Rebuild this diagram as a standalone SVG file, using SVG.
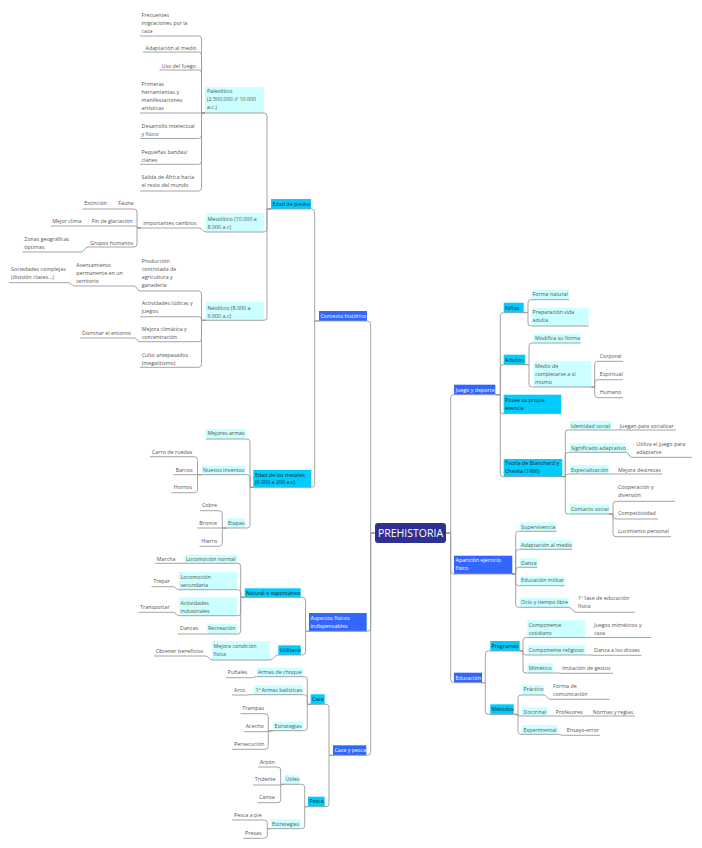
<svg xmlns="http://www.w3.org/2000/svg" width="702" height="848" viewBox="0 0 702 848">
<style>
text{font-family:"Open Sans","Noto Sans","Liberation Sans",sans-serif;font-size:5.35px;fill:#555}
.tw{fill:#fff}
.td{fill:#1e1e1e}
.u{stroke:#9a9a9a;stroke-width:0.9;fill:none}
.lc{fill:#ccffff}
.bc{fill:#00ccff}
.bl{fill:#3366ff}
#connectors path{stroke:#9a9a9a;stroke-width:0.9;fill:none}
</style>
<rect width="702" height="848" fill="#fff"/>
<g id="connectors">
<path d="M375,533 H370.7 V324 Q370.7,321 367.7,321 H367"/>
<path d="M375,533 H370.7 V628.3 Q370.7,631.3 367.7,631.3 H366.7"/>
<path d="M375,533 H370.7 V752.3 Q370.7,755.3 367.7,755.3 H366.3"/>
<path d="M319,321 H314.7 V212 Q314.7,209 311.7,209 H311"/>
<path d="M319,321 H314.7 V484.3 Q314.7,487.3 311.7,487.3 H311.3"/>
<path d="M271,209 H267 V116 Q267,113 264,113"/>
<path d="M271,209 H267 V229 Q267,232 264,232"/>
<path d="M271,209 H267 V317.3 Q267,320.3 264,320.3"/>
<path d="M205,113 H201.5 V39 Q201.5,36 198.5,36"/>
<path d="M205,113 H201.5 V55 Q201.5,52 198.5,52"/>
<path d="M205,113 H201.5 V73 Q201.5,70 198.5,70"/>
<path d="M205,113 H201.5"/>
<path d="M205,113 H201.5 V135.5 Q201.5,138.5 198.5,138.5"/>
<path d="M205,113 H201.5 V161.3 Q201.5,164.3 198.5,164.3"/>
<path d="M205,113 H201.5 V188 Q201.5,191 198.5,191"/>
<path d="M206,232 C202.5,232 202.5,228 199,228"/>
<path d="M141,228 H137 V212 Q137,209 134,209"/>
<path d="M141,228 C138,228 137,226 134,226"/>
<path d="M141,228 H137 V244 Q137,247 134,247"/>
<path d="M116,209 H110.5"/>
<path d="M89.5,226 H84"/>
<path d="M88,247 C84.5,247 84.5,252 81,252"/>
<path d="M206,320.3 H201.5 V294 Q201.5,291 198.5,291"/>
<path d="M206,320.3 H201.5 V319.7 Q201.5,316.7 198.5,316.7"/>
<path d="M206,320.3 H201.5 V338.7 Q201.5,341.7 198.5,341.7"/>
<path d="M206,320.3 H201.5 V364.3 Q201.5,367.3 198.5,367.3"/>
<path d="M140,291 C137,291 137,286 134,286"/>
<path d="M74.5,286 C71.2,286 71.2,282.7 68,282.7"/>
<path d="M140,341.7 C137,341.7 137,338 134,338"/>
<path d="M253.3,487.3 H250 V442 Q250,439 247,439 H245.5"/>
<path d="M253.3,487.3 H250 V477.7 Q250,474.7 247,474.7 H245.5"/>
<path d="M253.3,487.3 H250 V525 Q250,528 247,528 H245.5"/>
<path d="M201.7,474.7 H197.5 V459.7 Q197.5,456.7 194.5,456.7"/>
<path d="M201.7,474.7 H197.5"/>
<path d="M201.7,474.7 H197.5 V489.7 Q197.5,492.7 194.5,492.7"/>
<path d="M226.7,528 H222.3 V513.7 Q222.3,510.7 219.3,510.7"/>
<path d="M226.7,528 H222.3"/>
<path d="M226.7,528 H222.3 V543.3 Q222.3,546.3 219.3,546.3"/>
<path d="M309,631.3 H305.5 V600.3 Q305.5,597.3 302.5,597.3 H300.7"/>
<path d="M309,631.3 H305.5 V652 Q305.5,655 302.5,655 H300.7"/>
<path d="M244.7,597.3 H240.7 V566.3 Q240.7,563.3 237.7,563.3 H237"/>
<path d="M244.7,597.3 H240.7 V592.7 Q240.7,589.7 237.7,589.7 H237"/>
<path d="M244.7,597.3 H240.7 V612.7 Q240.7,615.7 237.7,615.7 H237"/>
<path d="M244.7,597.3 H240.7 V631 Q240.7,634 237.7,634 H237"/>
<path d="M184.3,563.3 H181"/>
<path d="M179,589.7 C176,589.7 176,586.7 173,586.7"/>
<path d="M179,615.7 C176,615.7 176,612.3 173,612.3"/>
<path d="M206.7,634 H203"/>
<path d="M278.3,655 C274,655 274,660 270,660"/>
<path d="M212,660 C209,660 209,656 206,656"/>
<path d="M333,755.3 H329 V707.3 Q329,704.3 326,704.3 H324.7"/>
<path d="M333,755.3 H329 V803.7 Q329,806.7 326,806.7 H324.7"/>
<path d="M310.7,704.3 H307.3 V679.7 Q307.3,676.7 304.3,676.7 H303"/>
<path d="M310.7,704.3 H307.3 V697.7 Q307.3,694.7 304.3,694.7 H303"/>
<path d="M310.7,704.3 H307.3 V727.7 Q307.3,730.7 304.3,730.7 H303"/>
<path d="M256.7,676.7 C254,676.7 254,677.7 251.5,677.7"/>
<path d="M254,694.7 H249"/>
<path d="M273,730.7 H268.3 V716.7 Q268.3,713.7 265.3,713.7"/>
<path d="M273,730.7 C270.5,730.7 270.5,731.7 268.3,731.7"/>
<path d="M273,730.7 H268.3 V746.3 Q268.3,749.3 265.3,749.3"/>
<path d="M308,806.7 H304.7 V787.3 Q304.7,784.3 301.7,784.3 H299.7"/>
<path d="M308,806.7 H304.7 V825.7 Q304.7,828.7 301.7,828.7 H300.7"/>
<path d="M284,784.3 H280.7 V770 Q280.7,767 277.7,767"/>
<path d="M284,784.3 C282,784.3 282,785 280.7,785"/>
<path d="M284,784.3 H280.7 V799.7 Q280.7,802.7 277.7,802.7"/>
<path d="M270.7,828.7 H267.3 V823 Q267.3,820 264.3,820"/>
<path d="M270.7,828.7 H267.3 V835.3 Q267.3,838.3 264.3,838.3"/>
<path d="M446,533 H450.7 V397.7 Q450.7,394.7 453.7,394.7 H454"/>
<path d="M446,533 H450.7 V571 Q450.7,574 453.7,574 H454"/>
<path d="M446,533 H450.7 V679.7 Q450.7,682.7 453.7,682.7 H454"/>
<path d="M495.3,394.7 H500.3 V315.7 Q500.3,312.7 503.3,312.7 H503.7"/>
<path d="M495.3,394.7 H500.3 V367.7 Q500.3,364.7 503.3,364.7 H503.7"/>
<path d="M495.3,394.7 H500.3 V410.7 Q500.3,413.7 503.3,413.7 H503.7"/>
<path d="M495.3,394.7 H500.3 V473.7 Q500.3,476.7 503.3,476.7 H503.7"/>
<path d="M523.7,312.7 H528 V302.7 Q528,299.7 531,299.7 H531.3"/>
<path d="M523.7,312.7 H528 V323 Q528,326 531,326 H531.3"/>
<path d="M525.3,364.7 H529 V346 Q529,343 532,343 H533.7"/>
<path d="M525.3,364.7 H529 V384 Q529,387 532,387 H533.7"/>
<path d="M591.3,387 H594.7 V364.3 Q594.7,361.3 597.7,361.3"/>
<path d="M591.3,387 H594.7 V382.7 Q594.7,379.7 597.7,379.7"/>
<path d="M591.3,387 H594.7 V394.7 Q594.7,397.7 597.7,397.7"/>
<path d="M562.3,476.7 H565.3 V433 Q565.3,430 568.3,430 H569.7"/>
<path d="M562.3,476.7 H565.3 V455.3 Q565.3,452.3 568.3,452.3 H569.7"/>
<path d="M562.3,476.7 C565.3,476.7 565.3,474 569.7,474"/>
<path d="M562.3,476.7 H565.3 V511 Q565.3,514 568.3,514 H569.7"/>
<path d="M611.3,430 H616"/>
<path d="M626.3,452.3 C629,452.3 629,457.3 632,457.3"/>
<path d="M608.7,474 H615"/>
<path d="M608.7,514 H613 V504.3 Q613,501.3 616,501.3"/>
<path d="M608.7,514 H613 V516 Q613,519 616,519"/>
<path d="M608.7,514 H613 V533.7 Q613,536.7 616,536.7"/>
<path d="M512.3,574 H515.7 V534.3 Q515.7,531.3 518.7,531.3 H519.7"/>
<path d="M512.3,574 H515.7 V552.3 Q515.7,549.3 518.7,549.3 H519.7"/>
<path d="M512.3,574 H515.7 V570.3 Q515.7,567.3 518.7,567.3 H519.7"/>
<path d="M512.3,574 H515.7 V582.7 Q515.7,585.7 518.7,585.7 H519.7"/>
<path d="M512.3,574 H515.7 V604.3 Q515.7,607.3 518.7,607.3 H519.7"/>
<path d="M568.7,607.3 C572.3,607.3 572.3,612.3 576,612.3"/>
<path d="M482,682.7 H485.3 V654 Q485.3,651 488.3,651 H490.3"/>
<path d="M482,682.7 H485.3 V711.3 Q485.3,714.3 488.3,714.3 H490.3"/>
<path d="M519.7,651 H523 V640.5 Q523,637.5 526,637.5 H527.3"/>
<path d="M519.7,651 H523 V652 Q523,655 526,655 H527.3"/>
<path d="M519.7,651 H523 V670 Q523,673 526,673 H527.3"/>
<path d="M585.3,637.5 H592"/>
<path d="M585.3,655 H592"/>
<path d="M553,673 H560"/>
<path d="M513.7,714.3 H518 V698 Q518,695 521,695 H522"/>
<path d="M513.7,714.3 C517,714.3 517,716 522,716"/>
<path d="M513.7,714.3 H518 V731.3 Q518,734.3 521,734.3 H522"/>
<path d="M544,695 C547,695 547,699.3 550,699.3"/>
<path d="M547.3,716 H553"/>
<path d="M585,716 H590"/>
<path d="M557.3,734.3 C560.5,734.3 560.5,735.3 564,735.3"/>
</g>

<g id="root"><rect x="375" y="523" width="71" height="20" rx="3" fill="#2e3192"/><text x="410.5" y="536.8" text-anchor="middle" class="tw" style="font-size:10.5px">PREHISTORIA</text></g>

<g id="contexto"><rect class="bl" x="319" y="311" width="48" height="10"/><text class="tw" x="320.5" y="317.9">Contexto histórico</text><path class="u" d="M319,321 H367"/></g>
<g id="edad-piedra"><rect class="bc" x="271" y="199" width="40" height="10"/><text class="td" x="272.5" y="205.6">Edad de piedra</text><path class="u" d="M271,209 H311"/></g>
<g id="paleolitico"><rect class="lc" x="205" y="87" width="59" height="26"/><text x="207" y="93.4">Paleolítico<tspan x="207" dy="8">(2.500.000 // 10.000</tspan><tspan x="207" dy="8">a.c.)</tspan></text><path class="u" d="M205,113 H264"/></g>
<g id="frecuentes"><text x="141.5" y="16.6">Frecuentes<tspan x="141.5" dy="8">migraciones por la</tspan><tspan x="141.5" dy="8">caza</tspan></text><path class="u" d="M140,36 H198.5"/></g>
<g id="adaptacion1"><text x="145.5" y="50.2">Adaptación al medio</text><path class="u" d="M143,52 H198.5"/></g>
<g id="fuego"><text x="161.5" y="67.9">Uso del fuego</text><path class="u" d="M159.5,70 H198.5"/></g>
<g id="primeras"><text x="141.5" y="85.9">Primeras<tspan x="141.5" dy="8">herramientas y</tspan><tspan x="141.5" dy="8">manifestaciones</tspan><tspan x="141.5" dy="8">artísticas</tspan></text><path class="u" d="M140,113 H201.5"/></g>
<g id="desarrollo"><text x="141.5" y="127.9">Desarrollo intelectual<tspan x="141.5" dy="8">y físico</tspan></text><path class="u" d="M140,138.5 H198.5"/></g>
<g id="bandas"><text x="141.5" y="153.6">Pequeñas bandas/<tspan x="141.5" dy="8">clanes</tspan></text><path class="u" d="M140,164.3 H198.5"/></g>
<g id="salida"><text x="141.5" y="179.2">Salida de África hacia<tspan x="141.5" dy="8">el resto del mundo</tspan></text><path class="u" d="M140,191 H198.5"/></g>

<g id="mesolitico"><rect class="lc" x="206" y="213" width="58" height="19"/><text x="207.5" y="220.6">Mesolítico (10.000 a<tspan x="207.5" dy="8">8.000 a.c)</tspan></text><path class="u" d="M206,232 H264"/></g>
<g id="cambios"><text x="143.3" y="224.9">Importantes cambios</text><path class="u" d="M141,228 H199"/></g>
<g id="fauna"><text x="118.3" y="205.2">Fauna</text><path class="u" d="M116,209 H134"/></g>
<g id="extincion"><text x="84.3" y="205.2">Extinción</text><path class="u" d="M82.5,209 H110.5"/></g>
<g id="glaciacion"><text x="91.7" y="223.2">Fin de glaciación</text><path class="u" d="M89.5,226 H134"/></g>
<g id="clima"><text x="52.3" y="223.2">Mejor clima</text><path class="u" d="M50.5,226 H84"/></g>
<g id="grupos"><text x="90" y="244.9">Grupos humanos</text><path class="u" d="M88,247 H134"/></g>
<g id="zonas"><text x="24.3" y="240.6">Zonas geográficas<tspan x="24.3" dy="8">óptimas</tspan></text><path class="u" d="M22.5,252 H81"/></g>

<g id="neolitico"><rect class="lc" x="206" y="302" width="58" height="18.3"/><text x="207.5" y="309.6">Neolítico (8.000 a<tspan x="207.5" dy="8">6.000 a.c)</tspan></text><path class="u" d="M206,320.3 H264"/></g>
<g id="produccion"><text x="141.7" y="262.9">Producción<tspan x="141.7" dy="8">controlada de</tspan><tspan x="141.7" dy="8">agricultura y</tspan><tspan x="141.7" dy="8">ganadería</tspan></text><path class="u" d="M140,291 H198.5"/></g>
<g id="ludicas"><text x="141.7" y="304.6">Actividades lúdicas y<tspan x="141.7" dy="8">juegos</tspan></text><path class="u" d="M140,316.7 H198.5"/></g>
<g id="mejora-climatica"><text x="141.7" y="330.6">Mejora climática y<tspan x="141.7" dy="8">concentración</tspan></text><path class="u" d="M140,341.7 H198.5"/></g>
<g id="culto"><text x="141.7" y="356.6">Culto antepasados<tspan x="141.7" dy="8">(megalitismo)</tspan></text><path class="u" d="M140,367.3 H198.5"/></g>
<g id="asentamiento"><text x="76.3" y="267.2">Asentamiento<tspan x="76.3" dy="8">permanente en un</tspan><tspan x="76.3" dy="8">territorio</tspan></text><path class="u" d="M74.5,286 H134"/></g>
<g id="sociedades"><text x="11" y="271.2">Sociedades complejas<tspan x="11" dy="8">(división clases...)</tspan></text><path class="u" d="M9,282.7 H68"/></g>
<g id="dominar"><text x="82" y="334.6">Dominar el entorno</text><path class="u" d="M80,338 H134"/></g>

<g id="metales"><rect class="bc" x="253.3" y="470" width="58" height="17.3"/><text class="td" x="255" y="476.6">Edad de los metales<tspan x="255" dy="7.8">(6.000 a 200 a.c)</tspan></text><path class="u" d="M253.3,487.3 H311.3"/></g>
<g id="armas"><rect class="lc" x="206" y="429" width="39.5" height="10"/><text x="207.5" y="435.2">Mejores armas</text><path class="u" d="M206,439 H245.5"/></g>
<g id="inventos"><rect class="lc" x="201.7" y="465.7" width="43.8" height="9"/><text x="203" y="471.6">Nuevos inventos</text><path class="u" d="M201.7,474.7 H245.5"/></g>
<g id="etapas"><rect class="lc" x="226.7" y="518.3" width="18.8" height="9.7"/><text x="228" y="524.9">Etapas</text><path class="u" d="M226.7,528 H245.5"/></g>
<g id="carro"><text x="152" y="453.6">Carro de ruedas</text><path class="u" d="M150,456.7 H194.5"/></g>
<g id="barcos"><text x="175.7" y="471.6">Barcos</text><path class="u" d="M173.5,474.7 H197.5"/></g>
<g id="hornos"><text x="173.7" y="489.2">Hornos</text><path class="u" d="M171.5,492.7 H194.5"/></g>
<g id="cobre"><text x="202" y="507.2">Cobre</text><path class="u" d="M200,510.7 H219.3"/></g>
<g id="bronce"><text x="199.3" y="524.9">Bronce</text><path class="u" d="M197.5,528 H222.3"/></g>
<g id="hierro"><text x="201.3" y="542.6">Hierro</text><path class="u" d="M199.5,546.3 H219.3"/></g>

<g id="aspectos"><rect class="bl" x="309" y="613" width="57.7" height="18.3"/><text class="tw" x="310.5" y="619.6">Aspectos físicos<tspan x="310.5" dy="8">indispensables</tspan></text><path class="u" d="M309,631.3 H366.7"/></g>
<g id="natural"><rect class="bc" x="244.7" y="588.3" width="56" height="9"/><text class="td" x="246" y="594.6">Natural o espontáneo</text><path class="u" d="M244.7,597.3 H300.7"/></g>
<g id="utilitario"><rect class="bc" x="278.3" y="645.3" width="22.4" height="9.7"/><text class="td" x="279.7" y="651.9">Utilitario</text><path class="u" d="M278.3,655 H300.7"/></g>
<g id="loc-normal"><rect class="lc" x="184.3" y="554.7" width="52.7" height="8.6"/><text x="186" y="560.9">Locomoción normal</text><path class="u" d="M184.3,563.3 H237"/></g>
<g id="loc-sec"><rect class="lc" x="179" y="571.7" width="58" height="18"/><text x="180.5" y="579.2">Locomoción<tspan x="180.5" dy="7.8">secundaria</tspan></text><path class="u" d="M179,589.7 H237"/></g>
<g id="act-ind"><rect class="lc" x="179" y="597.3" width="58" height="18.4"/><text x="180.5" y="604.9">Actividades<tspan x="180.5" dy="7.8">industriales</tspan></text><path class="u" d="M179,615.7 H237"/></g>
<g id="recreacion"><rect class="lc" x="206.7" y="624" width="30.3" height="10"/><text x="208" y="630.2">Recreación</text><path class="u" d="M206.7,634 H237"/></g>
<g id="marcha"><text x="156.7" y="560.9">Marcha</text><path class="u" d="M155,563.3 H181"/></g>
<g id="trepar"><text x="153.3" y="582.6">Trepar</text><path class="u" d="M151.5,586.7 H173"/></g>
<g id="transportar"><text x="140" y="608.6">Transportar</text><path class="u" d="M138.5,612.3 H173"/></g>
<g id="danzas"><text x="180" y="630.2">Danzas</text><path class="u" d="M178,634 H203"/></g>
<g id="mejora-condicion"><rect class="lc" x="212" y="641" width="58" height="19"/><text x="213.5" y="647.9">Mejora condición<tspan x="213.5" dy="8">física</tspan></text><path class="u" d="M212,660 H270"/></g>
<g id="obtener"><text x="155.7" y="652.9">Obtener beneficios</text><path class="u" d="M154,656 H206"/></g>

<g id="caza-pesca"><rect class="bl" x="333" y="745.3" width="33.3" height="10"/><text class="tw" x="334.5" y="752.2">Caza y pesca</text><path class="u" d="M333,755.3 H366.3"/></g>
<g id="caza"><rect class="bc" x="310.7" y="694.3" width="14" height="10"/><text class="td" x="312" y="700.6">Caza</text><path class="u" d="M310.7,704.3 H324.7"/></g>
<g id="pesca"><rect class="bc" x="308" y="796.7" width="16.7" height="10"/><text class="td" x="309.5" y="803.2">Pesca</text><path class="u" d="M308,806.7 H324.7"/></g>
<g id="armas-choque"><rect class="lc" x="256.7" y="667.7" width="46.3" height="9"/><text x="258" y="673.9">Armas de choque</text><path class="u" d="M256.7,676.7 H303"/></g>
<g id="armas-balisticas"><rect class="lc" x="254" y="685.3" width="49" height="9.4"/><text x="255.5" y="691.9">1ª Armas balísticas</text><path class="u" d="M254,694.7 H303"/></g>
<g id="estrategias-caza"><rect class="lc" x="273" y="721.7" width="30" height="9"/><text x="274.5" y="727.9">Estrategias</text><path class="u" d="M273,730.7 H303"/></g>
<g id="punales"><text x="227.7" y="673.9">Puñales</text><path class="u" d="M226,677.7 H251.5"/></g>
<g id="arco"><text x="234" y="691.9">Arco</text><path class="u" d="M232,695 H249"/></g>
<g id="trampas"><text x="242.3" y="709.6">Trampas</text><path class="u" d="M240.5,713.7 H265.3"/></g>
<g id="acecho"><text x="245.7" y="727.9">Acecho</text><path class="u" d="M244,731.7 H268.3"/></g>
<g id="persecucion"><text x="234" y="745.6">Persecución</text><path class="u" d="M232,749.3 H265.3"/></g>
<g id="utiles"><rect class="lc" x="284" y="775.3" width="15.7" height="9"/><text x="285.5" y="781.2">Útiles</text><path class="u" d="M284,784.3 H299.7"/></g>
<g id="estrategias-pesca"><rect class="lc" x="270.7" y="819.3" width="30" height="9.4"/><text x="272" y="825.9">Estrategias</text><path class="u" d="M270.7,828.7 H300.7"/></g>
<g id="arpon"><text x="259.7" y="763.6">Arpón</text><path class="u" d="M258,767 H277.7"/></g>
<g id="tridente"><text x="254.7" y="781.2">Tridente</text><path class="u" d="M253,785 H280.7"/></g>
<g id="canoa"><text x="259" y="799.2">Canoa</text><path class="u" d="M257.5,802.7 H277.7"/></g>
<g id="pesca-pie"><text x="234" y="816.9">Pesca a pie</text><path class="u" d="M232,820 H264.3"/></g>
<g id="presas"><text x="245" y="834.6">Presas</text><path class="u" d="M243,838.3 H264.3"/></g>

<g id="juego"><rect class="bl" x="454" y="384.7" width="41.3" height="10"/><text class="tw" x="455.5" y="391.6">Juego y deporte</text><path class="u" d="M454,394.7 H495.3"/></g>
<g id="ninos"><rect class="bc" x="503.7" y="302.7" width="20" height="10"/><text class="td" x="505" y="309.6">Niños</text><path class="u" d="M503.7,312.7 H523.7"/></g>
<g id="adultos"><rect class="bc" x="503.7" y="354.7" width="21.6" height="10"/><text class="td" x="505" y="361.6">Adultos</text><path class="u" d="M503.7,364.7 H525.3"/></g>
<g id="posee"><rect class="bc" x="503.7" y="394.7" width="57.6" height="19"/><text class="td" x="505" y="401.6">Posee su propia<tspan x="505" dy="8">esencia</tspan></text><path class="u" d="M503.7,413.7 H561.3"/></g>
<g id="teoria"><rect class="bc" x="503.7" y="459" width="58.6" height="17.7"/><text class="td" x="505" y="465.2">Teoría de Blanchard y<tspan x="505" dy="8">Cheska (1986)</tspan></text><path class="u" d="M503.7,476.7 H562.3"/></g>
<g id="forma-natural"><rect class="lc" x="531.3" y="289.7" width="37.7" height="10"/><text x="532.5" y="296.2">Forma natural</text><path class="u" d="M531.3,299.7 H569"/></g>
<g id="preparacion"><rect class="lc" x="531.3" y="307.7" width="57.4" height="18.3"/><text x="532.5" y="313.9">Preparación vida<tspan x="532.5" dy="8">adulta</tspan></text><path class="u" d="M531.3,326 H588.7"/></g>
<g id="modifica"><rect class="lc" x="533.7" y="333.7" width="47" height="9.3"/><text x="535" y="339.9">Modifica su forma</text><path class="u" d="M533.7,343 H580.7"/></g>
<g id="medio"><rect class="lc" x="533.7" y="361.3" width="57.6" height="25.7"/><text x="535" y="367.9">Medio de<tspan x="535" dy="8">completarse a sí</tspan><tspan x="535" dy="8">mismo</tspan></text><path class="u" d="M533.7,387 H591.3"/></g>
<g id="corporal"><text x="599.7" y="357.9">Corporal</text><path class="u" d="M597.7,361.3 H623"/></g>
<g id="espiritual"><text x="599.7" y="376.2">Espiritual</text><path class="u" d="M597.7,379.7 H623"/></g>
<g id="humano"><text x="599.7" y="393.9">Humano</text><path class="u" d="M597.7,397.7 H623"/></g>
<g id="identidad"><rect class="lc" x="569.7" y="421" width="41.6" height="9"/><text x="571" y="427.6">Identidad social</text><path class="u" d="M569.7,430 H611.3"/></g>
<g id="significado"><rect class="lc" x="569.7" y="443" width="56.6" height="9.3"/><text x="571" y="449.9">Significado adaptativo</text><path class="u" d="M569.7,452.3 H626.3"/></g>
<g id="especializacion"><rect class="lc" x="569.7" y="465" width="39" height="9"/><text x="571" y="471.6">Especialización</text><path class="u" d="M569.7,474 H608.7"/></g>
<g id="contacto"><rect class="lc" x="569.7" y="504.3" width="39" height="9.7"/><text x="571" y="510.9">Contacto social</text><path class="u" d="M569.7,514 H608.7"/></g>
<g id="juegan"><text x="619.7" y="427.6">Juegan para socializar</text><path class="u" d="M616,430 H676"/></g>
<g id="utiliza"><text x="636.3" y="445.9">Utiliza el juego para<tspan x="636.3" dy="8">adaptarse</tspan></text><path class="u" d="M632,457.3 H692"/></g>
<g id="destrezas"><text x="618" y="471.6">Mejora destrezas</text><path class="u" d="M615,474 H662"/></g>
<g id="cooperacion"><text x="618" y="489.2">Cooperación y<tspan x="618" dy="8">diversión</tspan></text><path class="u" d="M616,501.3 H675"/></g>
<g id="competitividad"><text x="618" y="515.2">Competitividad</text><path class="u" d="M616,519 H658"/></g>
<g id="lucimiento"><text x="618" y="533.2">Lucimiento personal</text><path class="u" d="M616,536.7 H671"/></g>

<g id="aparicion"><rect class="bl" x="454" y="555.7" width="58.3" height="18.3"/><text class="tw" x="455.5" y="561.9">Aparición ejercicio<tspan x="455.5" dy="8">físico</tspan></text><path class="u" d="M454,574 H512.3"/></g>
<g id="supervivencia"><rect class="lc" x="519.7" y="522.3" width="36.6" height="9"/><text x="521" y="528.6">Supervivencia</text><path class="u" d="M519.7,531.3 H556.3"/></g>
<g id="adaptacion2"><rect class="lc" x="519.7" y="540.3" width="52.6" height="9"/><text x="521" y="546.6">Adaptación al medio</text><path class="u" d="M519.7,549.3 H572.3"/></g>
<g id="danza"><rect class="lc" x="519.7" y="558.3" width="17.6" height="9"/><text x="521" y="564.6">Danza</text><path class="u" d="M519.7,567.3 H537.3"/></g>
<g id="militar"><rect class="lc" x="519.7" y="576.3" width="45" height="9.4"/><text x="521" y="582.2">Educación militar</text><path class="u" d="M519.7,585.7 H564.7"/></g>
<g id="ocio"><rect class="lc" x="519.7" y="597.7" width="49" height="9.6"/><text x="521" y="604.2">Ocio y tiempo libre</text><path class="u" d="M519.7,607.3 H568.7"/></g>
<g id="fase"><text x="578" y="600.2">1ª fase de educación<tspan x="578" dy="8">física</tspan></text><path class="u" d="M576,612.3 H634.7"/></g>

<g id="educacion"><rect class="bl" x="454" y="672.7" width="28" height="10"/><text class="tw" x="455.5" y="679.6">Educación</text><path class="u" d="M454,682.7 H482"/></g>
<g id="programas"><rect class="bc" x="490.3" y="641" width="29.4" height="10"/><text class="td" x="491.5" y="647.9">Programas</text><path class="u" d="M490.3,651 H519.7"/></g>
<g id="metodos"><rect class="bc" x="490.3" y="704.3" width="23.4" height="10"/><text class="td" x="491.5" y="710.9">Métodos</text><path class="u" d="M490.3,714.3 H513.7"/></g>
<g id="cotidiano"><rect class="lc" x="527.3" y="619.7" width="58" height="17.8"/><text x="528.7" y="626.6">Componente<tspan x="528.7" dy="8">cotidiano</tspan></text><path class="u" d="M527.3,637.5 H585.3"/></g>
<g id="religioso"><rect class="lc" x="527.3" y="645.3" width="58" height="9.7"/><text x="528.7" y="652.2">Componente religioso</text><path class="u" d="M527.3,655 H585.3"/></g>
<g id="mimetico"><rect class="lc" x="527.3" y="663.3" width="25.7" height="9.7"/><text x="528.7" y="669.9">Mimético</text><path class="u" d="M527.3,673 H553"/></g>
<g id="juegos-mimeticos"><text x="594" y="626.6">Juegos miméticos y<tspan x="594" dy="8">caza</tspan></text><path class="u" d="M592,637.5 H651"/></g>
<g id="dioses"><text x="594" y="652.2">Danza a los dioses</text><path class="u" d="M592,655.3 H641.3"/></g>
<g id="imitacion"><text x="562.3" y="669.9">Imitación de gestos</text><path class="u" d="M560,673.3 H613"/></g>
<g id="practico"><rect class="lc" x="522" y="685" width="22" height="10"/><text x="523.5" y="691.2">Práctico</text><path class="u" d="M522,695 H544"/></g>
<g id="doctrinal"><rect class="lc" x="522" y="707" width="25.3" height="9"/><text x="523.5" y="713.6">Doctrinal</text><path class="u" d="M522,716 H547.3"/></g>
<g id="experimental"><rect class="lc" x="522" y="725" width="35.3" height="9.3"/><text x="523.5" y="731.6">Experimental</text><path class="u" d="M522,734.3 H557.3"/></g>
<g id="forma-com"><text x="553" y="687.9">Forma de<tspan x="553" dy="7.7">comunicación</tspan></text><path class="u" d="M550,699.3 H609.7"/></g>
<g id="profesores"><text x="555.7" y="713.6">Profesores</text><path class="u" d="M553,716 H585"/></g>
<g id="normas"><text x="592.7" y="713.6">Normas y reglas</text><path class="u" d="M590,716 H634.7"/></g>
<g id="ensayo"><text x="566.7" y="731.6">Ensayo-error</text><path class="u" d="M564,735.3 H600"/></g>
</svg>
